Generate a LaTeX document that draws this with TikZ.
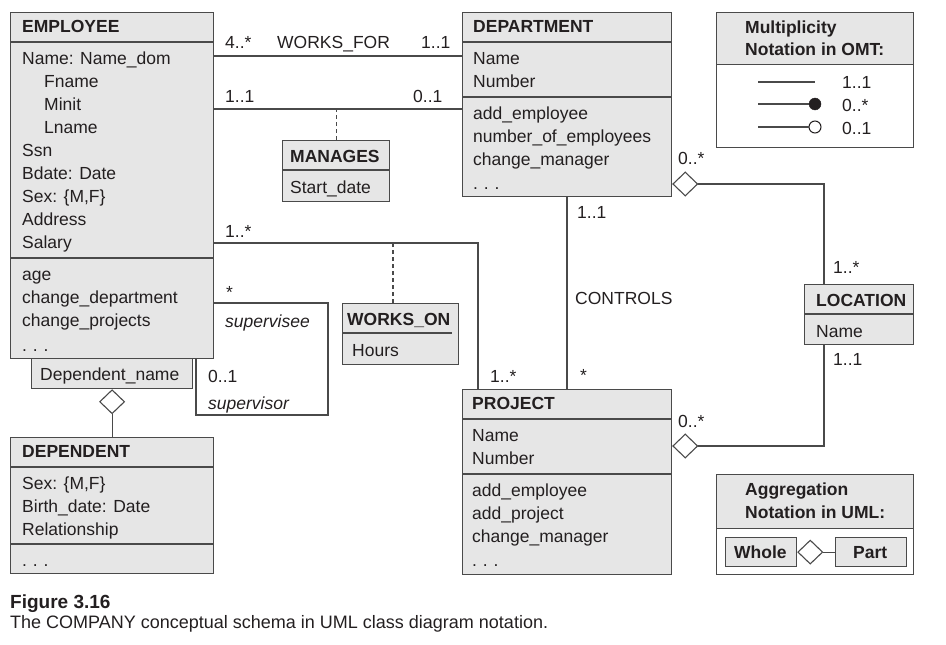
\documentclass[tikz,border=0pt]{standalone}
\usepackage{fontspec}
\setmainfont{Liberation Sans}
\usetikzlibrary{shapes.geometric}
\definecolor{boxfill}{HTML}{E6E6E6}
\definecolor{edge}{HTML}{4A4A4A}
\definecolor{ink}{HTML}{231F20}
\begin{document}
\begin{tikzpicture}[x=1pt,y=-1pt,
  every node/.style={font=\fontsize{17.5}{23}\selectfont, text=ink},
  box/.style={draw=edge, fill=boxfill, line width=1.2pt, inner sep=0, anchor=north west},
  wbox/.style={box, fill=white},
  txt/.style={anchor=base west, inner sep=0},
  hdr/.style={txt, font=\fontsize{17.5}{23}\selectfont\bfseries},
  itx/.style={txt, font=\fontsize{17.5}{23}\selectfont\itshape},
  conn/.style={draw=edge, line width=1.2pt},
  divl/.style={draw=edge, line width=1.2pt},
  dashl/.style={draw=edge, line width=1.2pt, dash pattern=on 4pt off 3pt},
  agg/.style={diamond, draw=edge, fill=white, line width=1.1pt, minimum width=25pt, minimum height=24pt, inner sep=0},
  captext/.style={txt, font=\fontsize{18}{22}\selectfont}
]
\useasboundingbox (0,0) rectangle (946,645);

% ---------------- EMPLOYEE
\node[box, minimum width=203pt, minimum height=346pt] (emp) at (10,12) {};
\draw[divl] (10,42) -- (213,42);
\draw[divl] (10,258) -- (213,258);
\node[hdr] (eh) at (22,32) {EMPLOYEE};
\node[txt] (ea1) at (22,64) {Name: Name\_dom};
\node[txt] (ea2) at (44,87) {Fname};
\node[txt] (ea3) at (44,110) {Minit};
\node[txt] (ea4) at (44,133) {Lname};
\node[txt] (ea5) at (22,156) {Ssn};
\node[txt] (ea6) at (22,179) {Bdate: Date};
\node[txt] (ea7) at (22,202) {Sex: \{M,F\}};
\node[txt] (ea8) at (22,225) {Address};
\node[txt] (ea9) at (22,248) {Salary};
\node[txt] (eo1) at (22,280) {age};
\node[txt] (eo2) at (22,303) {change\_department};
\node[txt] (eo3) at (22,326) {change\_projects};
\node[txt] (eo4) at (22,351) {.\,\,.\,\,.};

% ---------------- Dependent_name qualifier
\node[box, minimum width=161pt, minimum height=30pt] (dn) at (31,358) {};
\node[txt] (dnt) at (40,380) {Dependent\_name};

% ---------------- DEPENDENT
\node[box, minimum width=203pt, minimum height=136pt] (dep) at (10,437) {};
\draw[divl] (10,467) -- (213,467);
\draw[divl] (10,544) -- (213,544);
\node[hdr] (dh) at (22,457) {DEPENDENT};
\node[txt] (da1) at (22,489) {Sex: \{M,F\}};
\node[txt] (da2) at (22,512) {Birth\_date: Date};
\node[txt] (da3) at (22,535) {Relationship};
\node[txt] (do1) at (22,566) {.\,\,.\,\,.};

% ---------------- DEPARTMENT
\node[box, minimum width=209pt, minimum height=184pt] (dept) at (462,12) {};
\draw[divl] (462,42) -- (671,42);
\draw[divl] (462,97) -- (671,97);
\node[hdr] (deh) at (473,32) {DEPARTMENT};
\node[txt] (dea1) at (473,64) {Name};
\node[txt] (dea2) at (473,87) {Number};
\node[txt] (deo1) at (473,119) {add\_employee};
\node[txt] (deo2) at (473,142) {number\_of\_employees};
\node[txt] (deo3) at (473,165) {change\_manager};
\node[txt] (deo4) at (473,189) {.\,\,.\,\,.};

% ---------------- PROJECT
\node[box, minimum width=209pt, minimum height=185pt] (proj) at (462,389) {};
\draw[divl] (462,419) -- (671,419);
\draw[divl] (462,474) -- (671,474);
\node[hdr] (ph) at (472,409) {PROJECT};
\node[txt] (pa1) at (472,441) {Name};
\node[txt] (pa2) at (472,464) {Number};
\node[txt] (po1) at (472,496) {add\_employee};
\node[txt] (po2) at (472,519) {add\_project};
\node[txt] (po3) at (472,542) {change\_manager};
\node[txt] (po4) at (472,566) {.\,\,.\,\,.};

% ---------------- MANAGES
\node[box, minimum width=107pt, minimum height=61pt] (man) at (282,140) {};
\draw[divl] (282,170) -- (389,170);
\node[hdr] (mh) at (290,162) {MANAGES};
\node[txt] (ma) at (290,193) {Start\_date};

% ---------------- WORKS_ON
\node[box, minimum width=116pt, minimum height=61pt] (won) at (342,303) {};
\draw[divl] (342,333) -- (452,333);
\node[hdr] (wh) at (347,325) {WORKS\_ON};
\node[txt] (wa) at (352,356) {Hours};

% ---------------- LOCATION
\node[box, minimum width=109pt, minimum height=60pt] (loc) at (804,284) {};
\draw[divl] (804,314) -- (913,314);
\node[hdr] (lh) at (816,306) {LOCATION};
\node[txt] (la) at (816,337) {Name};

% ---------------- connectors
\coordinate (wfy) at (0,56);
\draw[conn] (emp.east |- wfy) -- (dept.west |- wfy);
\node[txt] (wf1) at (225,48) {4..*};
\node[txt] (wf2) at (277,48) {WORKS\_FOR};
\node[txt] (wf3) at (421,48) {1..1};

\coordinate (mgy) at (0,109);
\draw[conn] (emp.east |- mgy) -- (dept.west |- mgy);
\draw[dashl] (man.north) -- (man.north |- mgy);
\node[txt] (mg1) at (225,102) {1..1};
\node[txt] (mg2) at (413,102) {0..1};

\coordinate (woy) at (0,243);
\coordinate (wox) at (478,0);
\draw[conn] (emp.east |- woy) -| (wox |- proj.north);
\coordinate (wod) at (393,303);
\draw[dashl] (wod) -- (wod |- woy);
\node[txt] (wo1) at (225,237) {1..*};
\node[txt] (wo2) at (490,382) {1..*};

\coordinate (s1) at (328,303);
\coordinate (s2) at (196,415);
\draw[conn] (emp.east |- s1) -- (s1) -- (s1 |- s2) -- (s2) -- (s2 |- emp.south);
\node[txt] (sv1) at (226,298) {*};
\node[itx] (sv2) at (225,327) {supervisee};
\node[txt] (sv3) at (208,382) {0..1};
\node[itx] (sv4) at (208,409) {supervisor};

\coordinate (cx) at (567,0);
\draw[conn] (cx |- dept.south) -- (cx |- proj.north);
\node[txt] (c1) at (577,218) {1..1};
\node[txt] (c2) at (575,304) {CONTROLS};
\node[txt] (c3) at (580,381) {*};

\coordinate (dly) at (0,184);
\coordinate (ply) at (0,446);
\coordinate (lx) at (824,0);
\node[agg, anchor=west] (ddia) at (dept.east |- dly) {};
\node[agg, anchor=west] (pdia) at (proj.east |- ply) {};
\draw[conn] (ddia.east) -| (lx |- loc.north);
\draw[conn] (lx |- loc.south) |- (pdia.east);
\node[txt] (l1) at (678,164) {0..*};
\node[txt] (l2) at (833,273) {1..*};
\node[txt] (l3) at (833,365) {1..1};
\node[txt] (l4) at (678,427) {0..*};

\node[agg, anchor=north] (depd) at (dn.south) {};
\draw[conn] (depd.south) -- (depd.south |- dep.north);

% ---------------- Multiplicity legend
\node[box, minimum width=197pt, minimum height=52pt] (mlh) at (716,12) {};
\node[wbox, minimum width=197pt, minimum height=83pt] (mlb) at (716,64) {};
\node[hdr] (mt1) at (745,33) {Multiplicity};
\node[hdr] (mt2) at (745,56) {Notation in OMT:};
\draw[conn] (758,82) -- (815,82);
\node[circle, fill=ink, draw=ink, minimum size=12pt, inner sep=0] (fc) at (815,104) {};
\draw[conn] (758,104) -- (fc.west);
\node[circle, fill=white, draw=ink, line width=1pt, minimum size=12pt, inner sep=0] (oc) at (815,127) {};
\draw[conn] (758,127) -- (oc.west);
\node[txt] (m1) at (842,88) {1..1};
\node[txt] (m2) at (842,111) {0..*};
\node[txt] (m3) at (842,134) {0..1};

% ---------------- Aggregation legend
\node[box, minimum width=197pt, minimum height=54pt] (alh) at (716,474) {};
\node[wbox, minimum width=197pt, minimum height=46pt] (alb) at (716,528) {};
\node[hdr] (at1) at (745,495) {Aggregation};
\node[hdr] (at2) at (745,518) {Notation in UML:};
\node[box, minimum width=71pt, minimum height=29pt] (whole) at (725,537) {};
\node[box, minimum width=71pt, minimum height=29pt] (part) at (835,537) {};
\node[hdr] (wt) at (734,558) {Whole};
\node[hdr] (pt) at (853,558) {Part};
\node[agg, anchor=west] (ld) at (whole.east) {};
\draw[conn] (ld.east) -- (part.west);

% ---------------- caption
\node[captext, font=\fontsize{19}{23}\selectfont\bfseries] (f1) at (10,608) {Figure 3.16};
\node[captext] (f2) at (10,628) {The COMPANY conceptual schema in UML class diagram notation.};
\end{tikzpicture}
\end{document}
